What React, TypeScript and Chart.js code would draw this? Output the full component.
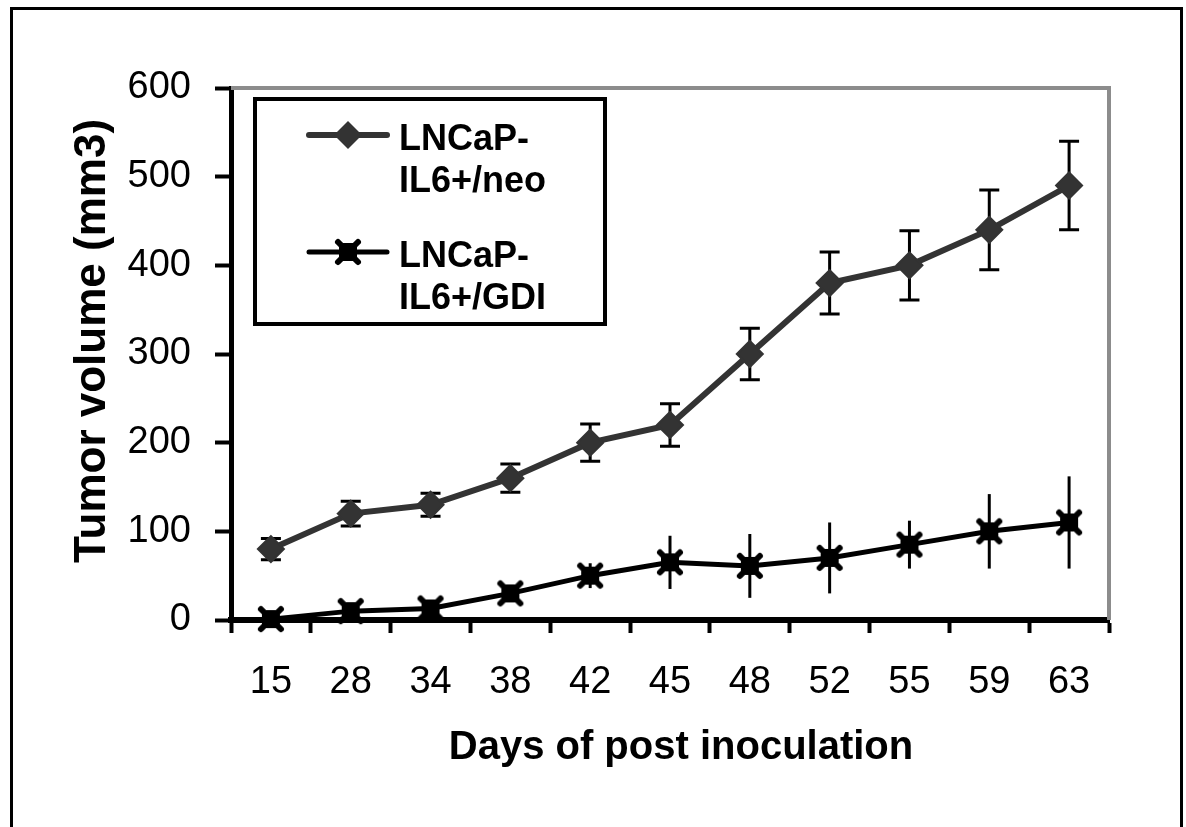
import React, { useEffect, useRef } from 'react';
import { Chart, registerables } from 'chart.js';

Chart.register(...registerables);

const days = ['15', '28', '34', '38', '42', '45', '48', '52', '55', '59', '63'];
const neoValues = [80, 120, 130, 160, 200, 220, 300, 380, 400, 440, 490];
const neoErrors = [12, 14, 13, 16, 21, 24, 29, 35, 39, 45, 50];
const gdiValues = [1, 10, 13, 30, 50, 65, 61, 70, 85, 100, 110];
const gdiErrors = [3, 4, 5, 8, 14, 30, 36, 40, 27, 42, 52];
const seriesNames = ['LNCaP-IL6+/neo', 'LNCaP-IL6+/GDI'];
const legendLines = [
  ['LNCaP-', 'IL6+/neo'],
  ['LNCaP-', 'IL6+/GDI'],
];
const yTicks = [0, 100, 200, 300, 400, 500, 600];
const yTitle = 'Tumor volume (mm3)';
const xTitle = 'Days of post inoculation';

const FONT = '"Liberation Sans", Arial, Helvetica, sans-serif';
const NEO_COLOR = '#333333';
const GDI_COLOR = '#000000';

function makeGdiMarker(): HTMLCanvasElement {
  const c = document.createElement('canvas');
  c.width = 30;
  c.height = 30;
  const g = c.getContext('2d')!;
  g.fillStyle = GDI_COLOR;
  g.fillRect(6, 6, 18, 18);
  g.strokeStyle = GDI_COLOR;
  g.lineWidth = 6;
  g.lineCap = 'round';
  g.beginPath();
  g.moveTo(5, 5);
  g.lineTo(25, 25);
  g.moveTo(25, 5);
  g.lineTo(5, 25);
  g.stroke();
  return c;
}

function drawDiamond(ctx: CanvasRenderingContext2D, x: number, y: number, r: number, color: string) {
  ctx.beginPath();
  ctx.moveTo(x, y - r);
  ctx.lineTo(x + r, y);
  ctx.lineTo(x, y + r);
  ctx.lineTo(x - r, y);
  ctx.closePath();
  ctx.fillStyle = color;
  ctx.fill();
}

const framePlugin = {
  id: 'framePlugin',
  beforeDraw(chart: any) {
    const ctx = chart.ctx;
    ctx.save();
    ctx.fillStyle = '#ffffff';
    ctx.fillRect(0, 0, chart.width, chart.height);
    ctx.strokeStyle = '#000';
    ctx.lineWidth = 3;
    ctx.beginPath();
    ctx.moveTo(11.5, chart.height + 5);
    ctx.lineTo(11.5, 8.5);
    ctx.lineTo(1181.5, 8.5);
    ctx.lineTo(1181.5, chart.height + 5);
    ctx.stroke();
    ctx.restore();
  },
};

const axisTitlePlugin = {
  id: 'axisTitlePlugin',
  afterDraw(chart: any) {
    const ctx = chart.ctx;
    ctx.save();
    ctx.fillStyle = '#000';
    ctx.textAlign = 'center';
    ctx.textBaseline = 'middle';
    ctx.font = `bold 40px ${FONT}`;
    ctx.fillText(xTitle, 681, 748);
    ctx.translate(93, 341);
    ctx.rotate(-Math.PI / 2);
    ctx.font = `bold 44px ${FONT}`;
    ctx.fillText(yTitle, 0, 0);
    ctx.restore();
  },
};

const plotBorderPlugin = {
  id: 'plotBorderPlugin',
  beforeDatasetsDraw(chart: any) {
    const { ctx, chartArea } = chart;
    ctx.save();
    ctx.strokeStyle = '#8c8c8c';
    ctx.lineWidth = 4;
    ctx.beginPath();
    ctx.moveTo(chartArea.left, chartArea.top);
    ctx.lineTo(chartArea.right, chartArea.top);
    ctx.lineTo(chartArea.right, chartArea.bottom);
    ctx.stroke();
    ctx.restore();
  },
};

const errorBarPlugin = {
  id: 'errorBarPlugin',
  beforeDatasetsDraw(chart: any) {
    const ctx = chart.ctx;
    const yScale = chart.scales.y;
    chart.data.datasets.forEach((ds: any, di: number) => {
      const meta = chart.getDatasetMeta(di);
      const errs: number[] = ds.errors || [];
      const cap: number = ds.capWidth || 0;
      ctx.save();
      ctx.strokeStyle = '#000';
      ctx.lineWidth = 3;
      meta.data.forEach((pt: any, i: number) => {
        const v = ds.data[i];
        const e = errs[i] || 0;
        const top = yScale.getPixelForValue(v + e);
        const bot = yScale.getPixelForValue(Math.max(0, v - e));
        ctx.beginPath();
        ctx.moveTo(pt.x, top);
        ctx.lineTo(pt.x, bot);
        if (cap) {
          ctx.moveTo(pt.x - cap / 2, top);
          ctx.lineTo(pt.x + cap / 2, top);
          ctx.moveTo(pt.x - cap / 2, bot);
          ctx.lineTo(pt.x + cap / 2, bot);
        }
        ctx.stroke();
      });
      ctx.restore();
    });
  },
};

function makeLegendPlugin(gdiMarker: HTMLCanvasElement) {
  return {
    id: 'boxLegend',
    afterDatasetsDraw(chart: any) {
      const ctx = chart.ctx;
      const bx = 255;
      const by = 99;
      const bw = 350;
      const bh = 225;
      ctx.save();
      ctx.fillStyle = '#fff';
      ctx.fillRect(bx, by, bw, bh);
      ctx.strokeStyle = '#000';
      ctx.lineWidth = 4;
      ctx.strokeRect(bx, by, bw, bh);

      const rows = [135, 252];
      const colors = [NEO_COLOR, GDI_COLOR];
      const widths = [6, 5];
      rows.forEach((ry, i) => {
        ctx.strokeStyle = colors[i];
        ctx.lineWidth = widths[i];
        ctx.lineCap = 'round';
        ctx.beginPath();
        ctx.moveTo(309, ry);
        ctx.lineTo(387, ry);
        ctx.stroke();
        if (i === 0) {
          drawDiamond(ctx, 348, ry, 14, NEO_COLOR);
        } else {
          ctx.drawImage(gdiMarker, 348 - 15, ry - 15, 30, 30);
        }
        ctx.fillStyle = '#000';
        ctx.font = `bold 36px ${FONT}`;
        ctx.textAlign = 'left';
        ctx.textBaseline = 'alphabetic';
        ctx.fillText(legendLines[i][0], 399, ry + 15);
        ctx.fillText(legendLines[i][1], 399, ry + 57);
      });
      ctx.restore();
    },
  };
}

export default function App() {
  const canvasRef = useRef<HTMLCanvasElement | null>(null);

  useEffect(() => {
    if (!canvasRef.current) return;
    const gdiMarker = makeGdiMarker();
    const chart = new Chart(canvasRef.current, {
      type: 'line',
      data: {
        labels: days,
        datasets: [
          {
            label: seriesNames[0],
            data: neoValues,
            errors: neoErrors,
            capWidth: 20,
            borderColor: NEO_COLOR,
            backgroundColor: NEO_COLOR,
            borderWidth: 6,
            pointStyle: 'rectRot',
            pointRadius: 13,
            pointBorderWidth: 2,
            pointBackgroundColor: NEO_COLOR,
            pointBorderColor: NEO_COLOR,
            tension: 0,
            clip: false,
          } as any,
          {
            label: seriesNames[1],
            data: gdiValues,
            errors: gdiErrors,
            capWidth: 0,
            borderColor: GDI_COLOR,
            backgroundColor: GDI_COLOR,
            borderWidth: 5,
            pointStyle: gdiMarker,
            pointRadius: 15,
            tension: 0,
            clip: false,
          } as any,
        ],
      },
      options: {
        responsive: false,
        animation: false,
        events: [],
        layout: { padding: { top: 88, right: 77, left: 0, bottom: 0 } },
        plugins: {
          legend: { display: false },
          title: { display: false },
          tooltip: { enabled: false },
        },
        scales: {
          x: {
            type: 'category',
            offset: true,
            afterFit: (s: any) => {
              s.height = 207;
            },
            grid: {
              offset: true,
              drawOnChartArea: false,
              drawTicks: true,
              tickLength: 13,
              tickWidth: 4,
              tickColor: '#000',
            },
            border: { display: true, color: '#000', width: 6 },
            ticks: {
              color: '#000',
              font: { family: FONT, size: 38 },
              padding: 27,
              maxRotation: 0,
              autoSkip: false,
            },
            title: { display: false, text: xTitle },
          },
          y: {
            min: yTicks[0],
            max: yTicks[yTicks.length - 1],
            afterFit: (s: any) => {
              s.width = 231;
            },
            afterBuildTicks: (s: any) => {
              s.ticks = yTicks.map((v) => ({ value: v }));
            },
            grid: {
              drawOnChartArea: false,
              drawTicks: true,
              tickLength: 16,
              tickWidth: 4,
              tickColor: '#000',
            },
            border: { display: true, color: '#000', width: 5 },
            ticks: {
              color: '#000',
              font: { family: FONT, size: 38 },
              padding: 24,
            },
            title: { display: false, text: yTitle },
          },
        },
      } as any,
      plugins: [framePlugin, plotBorderPlugin, errorBarPlugin, makeLegendPlugin(gdiMarker), axisTitlePlugin],
    });
    return () => chart.destroy();
  }, []);

  return (
    <div style={{ position: 'fixed', left: 0, top: 0, width: 1186, height: 827, background: '#fff' }}>
      <canvas ref={canvasRef} width={1186} height={827} style={{ display: 'block' }} />
    </div>
  );
}
